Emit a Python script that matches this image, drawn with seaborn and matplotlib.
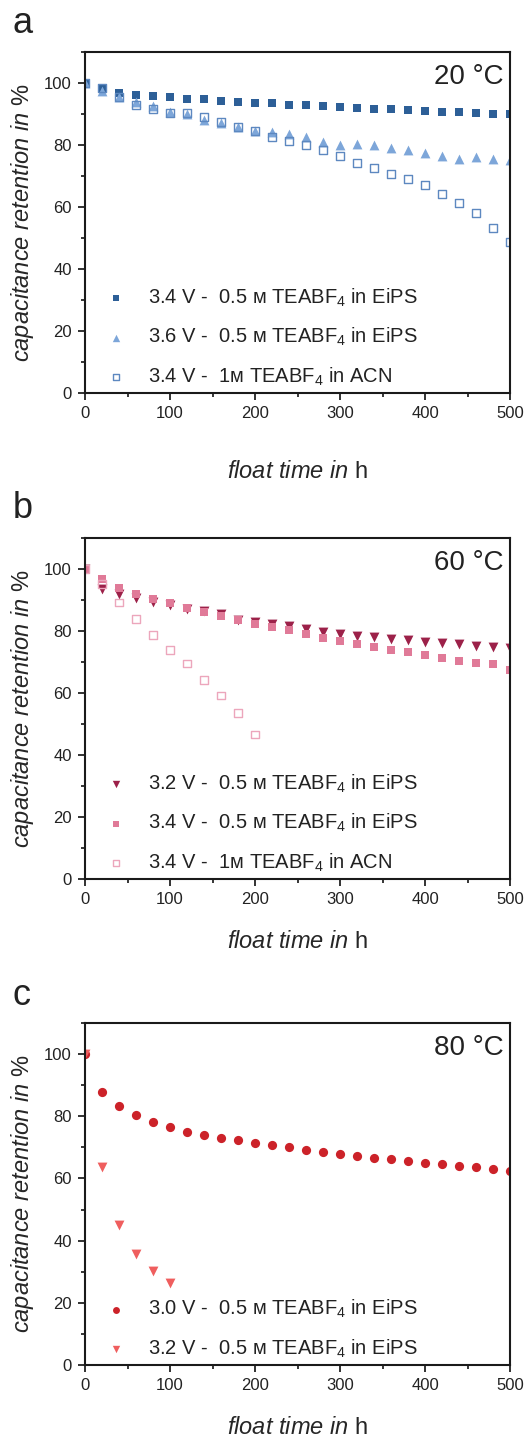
import numpy as np
import pandas as pd
import matplotlib
matplotlib.use("Agg")
import matplotlib.pyplot as plt
import seaborn as sns
from matplotlib.ticker import MultipleLocator

# float time in h, one point every 20 h
t_full = list(range(0, 520, 20))

# panel a, 20 °C
a_34_eips = [100, 98.0, 96.9, 96.1, 95.7, 95.4, 94.8, 94.7, 94.3, 94.0, 93.5, 93.4, 93.0,
             92.8, 92.6, 92.2, 91.8, 91.6, 91.5, 91.2, 91.0, 90.8, 90.5, 90.3, 90.1, 90.0]
a_36_eips = [100, 97.5, 95.5, 93.8, 92.7, 90.7, 90.0, 88.1, 87.0, 85.9, 84.6, 84.3, 83.5,
             82.7, 80.9, 80.0, 80.2, 79.9, 79.1, 78.4, 77.3, 76.4, 75.5, 76.2, 75.5, 75.1]
a_34_acn = [100, 98.3, 95.6, 92.8, 91.5, 90.4, 90.4, 89.1, 87.4, 85.9, 84.4, 82.7, 81.3,
            80.0, 78.3, 76.5, 74.1, 72.5, 70.6, 69.0, 67.1, 64.3, 61.4, 58.0, 53.3, 48.8]

# panel b, 60 °C
b_32_eips = [100, 93.7, 91.8, 90.6, 89.2, 88.4, 87.2, 86.3, 85.4, 83.5, 82.9, 82.2, 81.6,
             80.6, 79.8, 79.1, 78.5, 78.0, 77.5, 77.1, 76.5, 76.1, 75.7, 75.2, 74.8, 74.4]
b_34_eips = [100, 96.7, 93.8, 91.9, 90.3, 88.9, 87.4, 86.2, 84.8, 83.6, 82.4, 81.4, 80.2,
             79.0, 77.9, 76.8, 75.8, 74.8, 73.9, 73.1, 72.2, 71.3, 70.3, 69.8, 69.2, 67.5]
t_b_acn = [0, 20, 40, 60, 80, 100, 120, 140, 160, 180, 200]
b_34_acn = [100, 95.1, 89.2, 84.0, 78.8, 74.0, 69.5, 64.3, 59.2, 53.5, 46.6]

# panel c, 80 °C
c_30_eips = [100, 87.7, 83.4, 80.3, 78.0, 76.4, 75.1, 74.1, 73.1, 72.3, 71.5, 70.8, 70.0,
             69.2, 68.5, 67.8, 67.2, 66.7, 66.1, 65.6, 65.0, 64.6, 64.1, 63.7, 63.1, 62.5]
t_c_32 = [0, 20, 40, 60, 80, 100]
c_32_eips = [100, 63.8, 45.0, 35.7, 30.1, 26.3]

M = "\u1d0d"  # small capital M (molar)
lab_a = [f"3.4 V -  0.5 {M} TEABF$_4$ in EiPS",
         f"3.6 V -  0.5 {M} TEABF$_4$ in EiPS",
         f"3.4 V -  1{M} TEABF$_4$ in ACN"]
lab_b = [f"3.2 V -  0.5 {M} TEABF$_4$ in EiPS",
         f"3.4 V -  0.5 {M} TEABF$_4$ in EiPS",
         f"3.4 V -  1{M} TEABF$_4$ in ACN"]
lab_c = [f"3.0 V -  0.5 {M} TEABF$_4$ in EiPS",
         f"3.2 V -  0.5 {M} TEABF$_4$ in EiPS"]

sns.set_style("ticks")
plt.rcParams["font.family"] = ["Liberation Sans", "DejaVu Sans"]
plt.rcParams["mathtext.fontset"] = "custom"
plt.rcParams["mathtext.rm"] = "Liberation Sans"
plt.rcParams["mathtext.it"] = "Liberation Sans:italic"
plt.rcParams["text.color"] = "#222222"

fig = plt.figure(figsize=(5.28, 14.41), dpi=100)
W, H = 528, 1441


def make_ax(top_px, bot_px):
    return fig.add_axes([85 / W, 1 - bot_px / H, 425 / W, (bot_px - top_px) / H])


def pts(ax, t, y, marker, color, label, s=40, hollow=False):
    sns.scatterplot(x=t, y=y, ax=ax, marker=marker, color=color, s=s,
                    linewidth=0 if not hollow else 1.0, label=label,
                    edgecolor=color)
    if hollow:
        coll = ax.collections[-1]
        coll.set_facecolor("none")
        coll.set_edgecolor(color)


def style_ax(ax, temp, labelpad):
    ax.set_xlim(0, 500)
    ax.set_ylim(0, 110)
    ax.xaxis.set_major_locator(MultipleLocator(100))
    ax.xaxis.set_minor_locator(MultipleLocator(50))
    ax.yaxis.set_major_locator(MultipleLocator(20))
    ax.yaxis.set_minor_locator(MultipleLocator(10))
    ax.tick_params(which="major", direction="out", length=5, width=1.3, labelsize=12,
                   colors="#222222", pad=4.5)
    ax.tick_params(which="minor", direction="out", length=3, width=1.3)
    for sp in ax.spines.values():
        sp.set_linewidth(1.5)
        sp.set_color("#1a1a1a")
    ax.set_xlabel(r"$\mathit{float\ time\ in}$ h", fontsize=17, labelpad=labelpad)
    ax.set_ylabel(r"$\mathit{capacitance\ retention\ in}$ %", fontsize=17, labelpad=6)
    ax.text(0.985, 0.965, temp, transform=ax.transAxes, ha="right", va="top", fontsize=20)
    ax.legend(loc="lower left", bbox_to_anchor=(0.03, -0.008), frameon=False, fontsize=14.5,
              handlelength=1.0, handletextpad=1.1, labelspacing=0.85, borderaxespad=0,
              markerscale=0.75)


# panel a
ax_a = make_ax(52, 393)
pts(ax_a, t_full, a_34_eips, "s", "#2d5f97", lab_a[0])
pts(ax_a, t_full, a_36_eips, "^", "#7da6d9", lab_a[1], s=50)
pts(ax_a, t_full, a_34_acn, "s", "#5d88c0", lab_a[2], s=32, hollow=True)
style_ax(ax_a, "20 °C", 29)

# panel b
ax_b = make_ax(538, 879)
pts(ax_b, t_full, b_32_eips, "v", "#9c2149", lab_b[0], s=50)
pts(ax_b, t_full, b_34_eips, "s", "#e07a98", lab_b[1])
pts(ax_b, t_b_acn, b_34_acn, "s", "#eca6bc", lab_b[2], s=32, hollow=True)
style_ax(ax_b, "60 °C", 17)

# panel c
ax_c = make_ax(1023, 1365)
pts(ax_c, t_full, c_30_eips, "o", "#cc2229", lab_c[0], s=44)
pts(ax_c, t_c_32, c_32_eips, "v", "#ef5e5e", lab_c[1], s=50)
style_ax(ax_c, "80 °C", 17)

for letter, y in [("a", 33), ("b", 518), ("c", 1005)]:
    fig.text(13 / W, 1 - y / H, letter, fontsize=26, va="baseline", ha="left")

fig.savefig("out.png", dpi=100)
plt.close(fig)
